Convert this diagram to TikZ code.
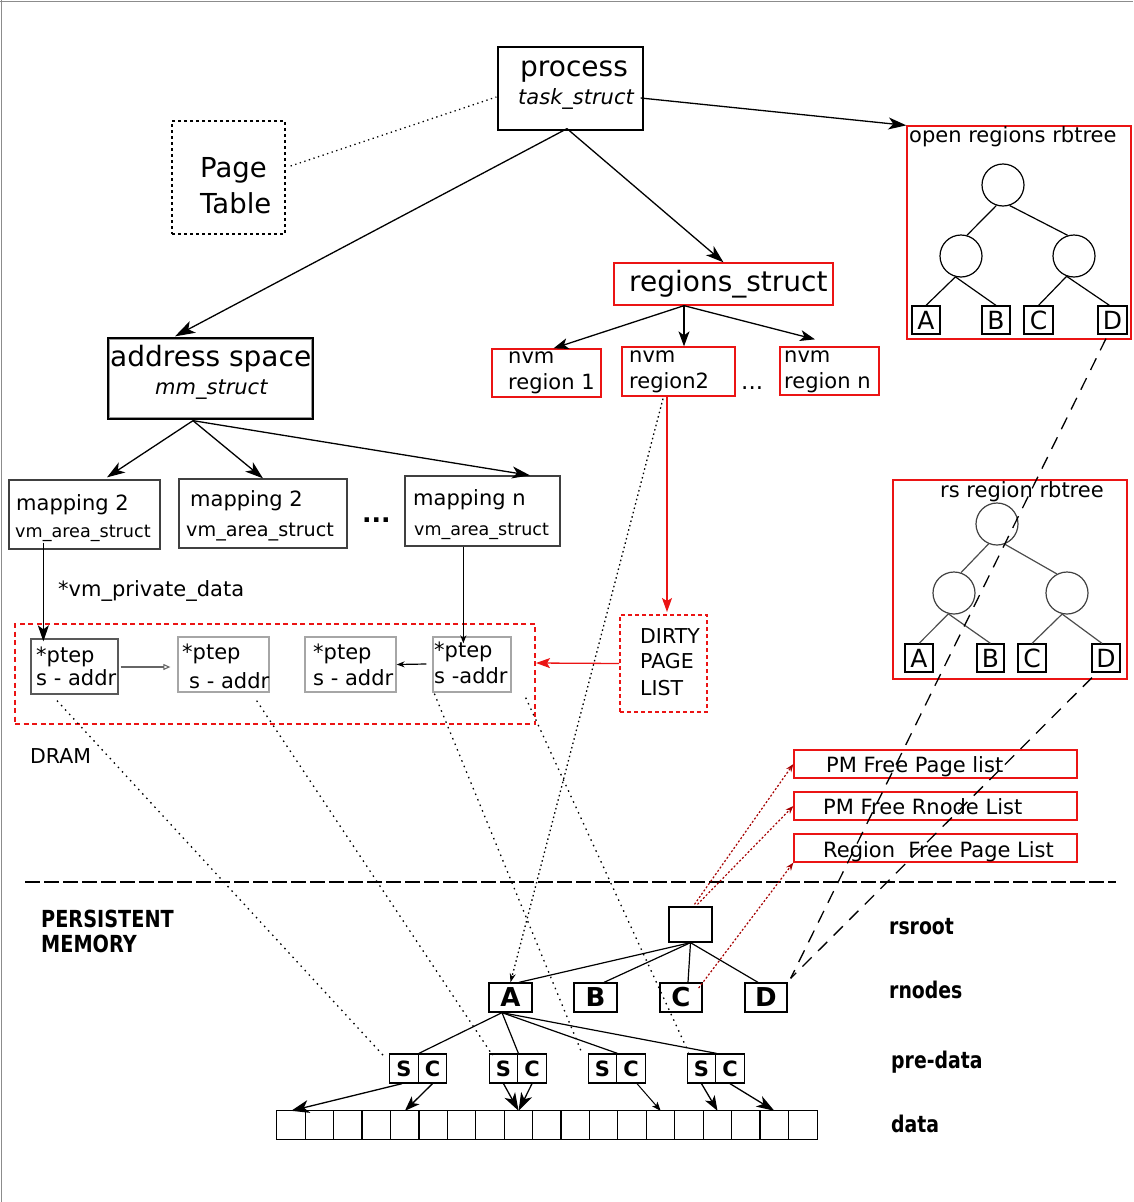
\documentclass[tikz,border=0pt]{standalone}
\usepackage{fontspec}
\setmainfont{DejaVu Sans}
\newfontfamily\condfont[FakeStretch=0.82]{DejaVu Sans}
\usetikzlibrary{arrows.meta,calc}
\newcommand\fs[1]{\fontsize{#1}{#1}\selectfont}
% rectangle node from its corners: [style]{name}{x1}{y1}{x2}{y2}
\newcommand\boxnode[6][]{\node[#1, inner sep=0, minimum width={#5-#3}, minimum height={#6-#4}] (#2) at ({(#3+#5)/2},{(#4+#6)/2}) {};}
\definecolor{pmred}{RGB}{235,20,20}
\definecolor{dkred}{RGB}{165,0,0}
\begin{document}
\begin{tikzpicture}[x=1pt,y=-1pt,
  bx/.style={draw, line width=1.3pt},
  gbx/.style={draw=black!35, line width=1.3pt},
  mbx/.style={draw=black!75, line width=1.3pt},
  rbx/.style={draw=pmred, line width=1.3pt},
  circ/.style={draw, circle, inner sep=0, minimum size=42, line width=1.2pt},
  leaf/.style={draw, inner sep=0, minimum width=28, minimum height=28, line width=1.2pt, font=\fs{25}},
  rnode/.style={draw, inner sep=0, minimum width=43, minimum height=29, line width=1.3pt, font=\fs{26}\bfseries},
  scbox/.style={draw, inner sep=0, minimum width=28.5, minimum height=29, line width=1.3pt, font=\fs{21}\bfseries},
  cell/.style={inner sep=0, minimum width=28.42, minimum height=28},
  txt/.style={inner sep=0, anchor=base west},
  lbl/.style={txt, font=\condfont\bfseries\fs{23}},
  edge/.style={line width=1.2pt},
  gedge/.style={line width=1.2pt, black!70},
  arr/.style={line width=1.3pt, -{Stealth[length=15pt,width=11pt,inset=4pt]}},
  sarr/.style={line width=1.2pt, -{Stealth[length=8pt,width=6pt]}},
  redarr/.style={line width=1.3pt, pmred, -{Stealth[length=14pt,width=10pt,inset=3pt]}},
  dots/.style={line width=1.3pt, dash pattern=on 1.5pt off 4.5pt},
  rdots/.style={line width=1.2pt, dkred, dash pattern=on 2pt off 2pt, -{Stealth[length=8pt,width=6pt]}},
  longdash/.style={line width=1.3pt, dash pattern=on 13pt off 9pt},
]
\useasboundingbox (0,0) rectangle (1133,1202);
% frame
\draw[black!45, line width=1pt] (0,1) -- (1133,1);
\draw[black!45, line width=1pt] (1,0) -- (1,1202);

% ---------- top: process and page table ----------
\boxnode[bx]{proc}{498}{47}{643}{130}
\node[txt, font=\fs{28}] (tproc) at (520,76) {process};
\node[txt, font=\fs{21}\itshape] (ttask) at (518,104) {task\_struct};
\boxnode[draw, line width=1.3pt, dash pattern=on 3pt off 3pt]{ptab}{172}{121}{285}{234}
\node[txt, font=\fs{27.5}] (tpage) at (200,177) {Page};
\node[txt, font=\fs{27.5}] (ttable) at (200,213) {Table};
\draw[dots, dash pattern=on 1.3pt off 3.5pt] ($(ptab.east)+(5,-11.5)$) -- ($(proc.west)+(-1,8.5)$);

% ---------- open regions rbtree ----------
\boxnode[rbx]{obox}{907}{126}{1131}{339}
\node[txt, font=\fs{21}] (tobox) at (909,142) {open regions rbtree};
\node[circ] (or1) at (1003,185) {};
\node[circ] (or2) at (961,256) {};
\node[circ] (or3) at (1074,256) {};
\node[leaf] (oA) at (926,320) {A};
\node[leaf] (oB) at (996,320) {B};
\node[leaf, minimum width=29] (oC) at (1038.5,320) {C};
\node[leaf, minimum width=29] (oD) at (1112.5,320) {D};
\draw[edge] (or1.-108) -- (or2.74);
\draw[edge] (or1.-72) -- (or3.107);
\draw[edge] (or2.-105) -- (oA.north);
\draw[edge] (or2.-105) -- (oB.north);
\draw[edge] (or3.-110) -- (oC.north);
\draw[edge] (or3.-110) -- ($(oD.north)+(-3,0)$);

% ---------- regions_struct ----------
\boxnode[rbx]{regs}{614}{263}{833}{305}
\node[txt, font=\fs{28}] (tregs) at (629,291) {regions\_struct};
\boxnode[rbx]{nvm1}{492}{349}{601}{397}
\node[txt, font=\fs{21}] (tn1a) at (508,363) {nvm};
\node[txt, font=\fs{21}] (tn1b) at (508,389) {region 1};
\boxnode[rbx]{nvm2}{622}{347}{735}{396}
\node[txt, font=\fs{21}] (tn2a) at (629,362) {nvm};
\node[txt, font=\fs{21}] (tn2b) at (629,388) {region2};
\node[txt, font=\fs{23}] (tndots) at (741,389) {...};
\boxnode[rbx]{nvmn}{780}{347}{879}{395}
\node[txt, font=\fs{21}] (tnna) at (784,362) {nvm};
\node[txt, font=\fs{21}] (tnnb) at (784,388) {region n};

% ---------- address space ----------
\boxnode[bx]{addr}{108}{338}{313}{419}
\draw[black!40, line width=1pt] ($(addr.north west)+(2.5,2.5)$) rectangle ($(addr.south east)+(-2.5,-2.5)$);
\node[txt, font=\fs{28}] (taddr) at (110,366) {address space};
\node[txt, font=\fs{21}\itshape] (tmm) at (155,394) {mm\_struct};

\boxnode[mbx]{map1}{9}{480}{160}{549}
\node[txt, font=\fs{21}] (tm1a) at (16,510) {mapping 2};
\node[txt, font=\fs{17.6}] (tm1b) at (15,537) {vm\_area\_struct};
\boxnode[mbx]{map2}{179}{479}{347}{548}
\node[txt, font=\fs{21}] (tm2a) at (190,506) {mapping 2};
\node[txt, font=\fs{19.2}] (tm2b) at (186,536) {vm\_area\_struct};
\node[txt, font=\fs{25}\bfseries] (tmdots) at (362,522) {...};
\boxnode[mbx]{mapn}{405}{476}{560}{546}
\node[txt, font=\fs{21}] (tmna) at (413,505) {mapping n};
\node[txt, font=\fs{17.5}] (tmnb) at (414,535) {vm\_area\_struct};
\node[txt, font=\fs{21}] (tpriv) at (58,596) {*vm\_private\_data};

% ---------- DRAM page table entries ----------
\boxnode[draw=pmred, line width=2pt, dash pattern=on 5pt off 3.5pt]{dram}{15}{624}{535}{724}
\boxnode[draw=black!65, line width=1.3pt]{ptep1}{31}{639}{118}{694}
\node[txt, font=\fs{21}] (tp1a) at (36,662) {*ptep};
\node[txt, font=\fs{21}] (tp1b) at (36,685) {s - addr};
\boxnode[gbx]{ptep2}{178}{637}{269}{692}
\node[txt, font=\fs{21}] (tp2a) at (182,659) {*ptep};
\node[txt, font=\fs{21}] (tp2b) at (189,688) {s - addr};
\boxnode[gbx]{ptep3}{305}{637}{396}{692}
\node[txt, font=\fs{21}] (tp3a) at (313,659) {*ptep};
\node[txt, font=\fs{21}] (tp3b) at (313,685) {s - addr};
\boxnode[gbx]{ptep4}{433}{637}{511}{692}
\node[txt, font=\fs{21}] (tp4a) at (434,657) {*ptep};
\node[txt, font=\fs{21}] (tp4b) at (434,683) {s -addr};
\node[txt, font=\fs{20.5}] (tdram) at (30,763) {DRAM};

\boxnode[draw=pmred, line width=2pt, dash pattern=on 4pt off 3pt]{dirty}{620}{615}{707}{712}
\node[txt, font=\fs{20.5}] (td1) at (640,643) {DIRTY};
\node[txt, font=\fs{20.5}] (td2) at (640,668) {PAGE};
\node[txt, font=\fs{20.5}] (td3) at (640,695) {LIST};

% ---------- rs region rbtree ----------
\boxnode[rbx]{rbox}{893}{480}{1127}{679}
\node[txt, font=\fs{21}] (trbox) at (940,497) {rs region rbtree};
\node[circ, draw=black!75] (rs1) at (997,524) {};
\node[circ, draw=black!75] (rs2) at (954,593) {};
\node[circ, draw=black!75] (rs3) at (1067,593) {};
\node[leaf] (rA) at (919,658) {A};
\node[leaf, minimum width=27] (rB) at (990.5,658) {B};
\node[leaf] (rC) at (1032,658) {C};
\node[leaf] (rD) at (1106,658) {D};
\draw[gedge] (rs1.-113) -- (rs2.71);
\draw[gedge] (rs1.-69) -- (rs3.118);
\draw[gedge] (rs2.-105) -- (rA.north);
\draw[gedge] (rs2.-105) -- (rB.north);
\draw[gedge] (rs3.-103) -- (rC.north);
\draw[gedge] (rs3.-103) -- ($(rD.north)+(-4,0)$);

% ---------- free lists ----------
\boxnode[rbx]{pm1}{794}{750}{1077}{778}
\node[txt, font=\fs{21}] (tpm1) at (826,772) {PM Free Page list};
\boxnode[rbx]{pm2}{794}{792}{1077}{820}
\node[txt, font=\fs{21}] (tpm2) at (823,814) {PM Free Rnode List};
\boxnode[rbx]{pm3}{794}{834}{1077}{862}
\node[txt, font=\fs{21}] (tpm3) at (823,857) {Region\ \ Free Page List};

% ---------- DRAM / PM separator ----------
\coordinate (sepL) at (25,882);
\coordinate (sepR) at (1116,882);
\draw[line width=2.6pt, dash pattern=on 15pt off 4pt] (sepL) -- (sepR);
\node[lbl, font=\condfont\bfseries\fs{23.5}] (tpers) at (41,927) {PERSISTENT};
\node[lbl, font=\condfont\bfseries\fs{23.5}] (tmem) at (41,952) {MEMORY};

% ---------- persistent memory layout ----------
\boxnode[bx]{rsroot}{669}{907}{712}{942}
\node[rnode] (rnA) at (510.5,997.5) {A};
\node[rnode] (rnB) at (595.5,997.5) {B};
\node[rnode, minimum width=42] (rnC) at (681,997.5) {C};
\node[rnode, minimum width=42] (rnD) at (766,997.5) {D};
\node[scbox] (S1) at (404,1068.5) {S};
\node[scbox] (C1) at (432.5,1068.5) {C};
\node[scbox] (S2) at (503.5,1068.5) {S};
\node[scbox] (C2) at (532,1068.5) {C};
\node[scbox] (S3) at (602.5,1068.5) {S};
\node[scbox] (C3) at (631,1068.5) {C};
\node[scbox] (S4) at (701.5,1068.5) {S};
\node[scbox] (C4) at (730,1068.5) {C};
% data row: 19 equal cells
\foreach \k in {0,...,18}
  \node[cell] (d\k) at ({277+28.42*\k+14.21},1125) {};
\draw[line width=1.2pt] (d0.north west) rectangle (d18.south east);
\foreach \k in {1,...,18}
  \draw[line width=1.2pt] (d\k.north west) -- (d\k.south west);

\node[lbl] (trsroot) at (889,934) {rsroot};
\node[lbl] (trnodes) at (889,998) {rnodes};
\node[lbl] (tpre) at (891,1068) {pre-data};
\node[lbl] (tdata) at (891,1132) {data};

\draw[edge] (rsroot.south) -- ($(rnA.north)+(8.5,0)$);
\draw[edge] (rsroot.south) -- ($(rnB.north)+(8.5,0)$);
\draw[edge] (rsroot.south) -- ($(rnC.north)+(7,0)$);
\draw[edge] (rsroot.south) -- ($(rnD.north)+(-8,0)$);
\coordinate (aroot) at ($(rnA.south)+(-8.5,0)$);
\draw[edge] (aroot) -- (S1.north east);
\draw[edge] (aroot) -- (S2.north east);
\draw[edge] (aroot) -- (S3.north east);
\draw[edge] (aroot) -- (S4.north east);

\draw[arr, -{Stealth[length=18pt,width=13pt,inset=5pt]}] ($(S1.south)+(-2,0)$) -- (d0.north);
\draw[arr] (C1.south) -- (d4.north);
\draw[arr, -{Stealth[length=18pt,width=12pt,inset=5pt]}] (S2.south) -- (d8.north);
\draw[arr, -{Stealth[length=18pt,width=12pt,inset=5pt]}] (C2.south) -- (d8.north);
\draw[line width=1pt, -{Stealth[length=9pt,width=7pt,inset=2pt]}] ($(C3.south)+(6,0)$) -- (d13.north);
\draw[arr] (S4.south) -- (d15.north);
\draw[arr, -{Stealth[length=18pt,width=12pt,inset=5pt]}] (C4.south) -- (d17.north);

% ---------- top-level pointers ----------
\draw[arr, -{Stealth[length=20pt,width=13pt,inset=5pt]}] ($(proc.south)+(-3.5,-2)$) -- ($(addr.north)+(-35.5,-1)$);
\draw[arr, -{Stealth[length=18pt,width=12pt,inset=5pt]}] ($(proc.south)+(-3.5,-2)$) -- (regs.north);
\draw[arr, -{Stealth[length=18pt,width=12pt,inset=5pt]}] ($(proc.east)+(-3,9.5)$) -- (obox.north west);

\coordinate (rsrc) at ($(regs.south)+(-39.5,0)$);
\draw[arr] (rsrc) -- ($(nvm1.north)+(7,0)$);
\draw[arr] (rsrc) -- ($(nvm2.north)+(5.5,0)$);
\draw[arr] (rsrc) -- ($(nvmn.north)+(-14.5,-7)$);

\coordinate (asrc) at ($(addr.south)+(-17.5,1)$);
\draw[arr, -{Stealth[length=18pt,width=12pt,inset=5pt]}] (asrc) -- ($(map1.north)+(22.5,-2)$);
\draw[arr, -{Stealth[length=18pt,width=12pt,inset=5pt]}] (asrc) -- (map2.north);
\draw[arr, -{Stealth[length=18pt,width=12pt,inset=5pt]}] (asrc) -- ($(mapn.north)+(47.5,0)$);

\draw[arr, -{Stealth[length=16pt,width=11pt,inset=4pt]}] ($(map1.south west)+(35,-7)$) -- ($(ptep1.north west)+(13,3)$);
\draw[sarr] ($(mapn.south west)+(59,0)$) -- ($(ptep4.north west)+(31,7)$);
\draw[line width=1.1pt, black!60, -{Triangle[open,length=7pt,width=6pt]}] ($(ptep1.east)+(2,0.5)$) -- ($(ptep2.west)+(-7,2.5)$);
\draw[sarr] ($(ptep4.west)+(-6,-0.5)$) -- (ptep3.east);

\draw[redarr] ($(nvm2.south)+(-11.5,0)$) -- ($(dirty.north)+(3.5,-2)$);
\draw[redarr] (dirty.west) -- ($(dram.east)+(0,-11)$);

% ---------- cross links ----------
\draw[dots, dash pattern=on 1.5pt off 3pt, -{Stealth[length=9pt,width=6pt]}] ($(nvm2.south)+(-15.5,2)$) -- (rnA.north);
\draw[dots] ($(ptep1.south)+(-17.5,6)$) -- ($(S1.north west)+(-5,3)$);
\draw[dots] ($(ptep2.south east)+(-13,8)$) -- ($(S2.north west)+(4,2)$);
\draw[dots] ($(ptep4.south west)+(2,1)$) -- ($(S3.north west)+(-6,-1)$);
\draw[dots] ($(ptep4.south east)+(14,5)$) -- ($(S4.north west)+(2,-1)$);

\draw[longdash] ($(oD.south)+(-6.5,4)$) -- ($(rnD.north east)+(3,-4)$);
\draw[longdash] ($(rD.south)+(-14,5)$) -- ($(rnD.north east)+(3,-4)$);

\draw[rdots] ($(rsroot.north)+(4,-2)$) -- (pm1.west);
\draw[rdots] ($(rsroot.north)+(7,-2)$) -- (pm2.west);
\draw[rdots] ($(rnC.east)+(-4,-9.5)$) -- (pm3.south west);
\end{tikzpicture}
\end{document}
